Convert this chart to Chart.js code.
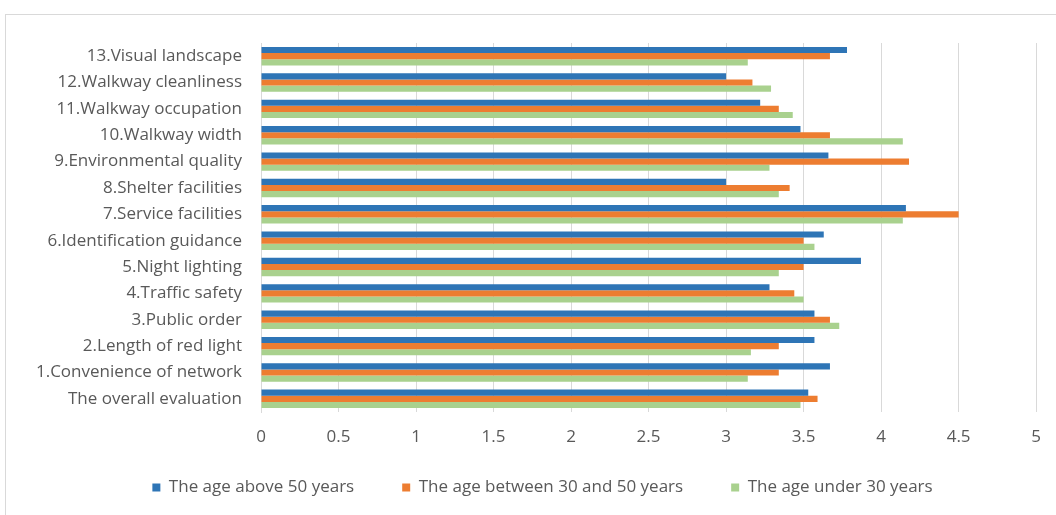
<!DOCTYPE html>
<html>
<head>
<meta charset="utf-8">
<script src="https://cdn.jsdelivr.net/npm/chart.js@4/dist/chart.umd.min.js"></script>
<style>
  body { margin: 0; background: #fff; }
  #frame { position: absolute; left: 5px; top: 14px; width: 1060px; height: 520px; border: 1px solid #d9d9d9; }
  #wrap { position: absolute; left: 0; top: 0; width: 1056px; height: 515px; }
</style>
</head>
<body>
<div id="frame"></div>
<div id="wrap"><canvas id="barChart"></canvas></div>
<script>
// categories, top to bottom
const categories = [
  '13.Visual landscape', '12.Walkway cleanliness', '11.Walkway occupation', '10.Walkway width',
  '9.Environmental quality', '8.Shelter facilities', '7.Service facilities', '6.Identification guidance',
  '5.Night lighting', '4.Traffic safety', '3.Public order', '2.Length of red light',
  '1.Convenience of network', 'The overall evaluation'
];
const seriesNames = ['The age above 50 years', 'The age between 30 and 50 years', 'The age under 30 years'];
const above50 = [3.78, 3.00, 3.22, 3.48, 3.66, 3.00, 4.16, 3.63, 3.87, 3.28, 3.57, 3.57, 3.67, 3.53];
const between30and50 = [3.67, 3.17, 3.34, 3.67, 4.18, 3.41, 4.50, 3.50, 3.50, 3.44, 3.67, 3.34, 3.34, 3.59];
const under30 = [3.14, 3.29, 3.43, 4.14, 3.28, 3.34, 4.14, 3.57, 3.34, 3.50, 3.73, 3.16, 3.14, 3.48];
const xTicks = [0, 0.5, 1, 1.5, 2, 2.5, 3, 3.5, 4, 4.5, 5];

const colors = ['#2e75b6', '#ed7d31', '#a9d18e'];
const font = { family: "'Open Sans', sans-serif", size: 17 };

// legend: short box in the layout, then moved so the wide item gap (labels.padding) fits
const legendPlace = {
  id: 'legendPlace',
  afterInit: function (chart) {
    const lg = chart.legend;
    const fit = lg.fit;
    lg.fit = function () {
      fit.call(this);
      this.height = 63;
    };
  },
  afterLayout: function (chart) {
    const lg = chart.legend;
    lg.top = 431;
    lg.height = lg.bottom - lg.top;
    lg.left += 18;
    lg.right += 18;
  }
};

const ctx = document.getElementById('barChart').getContext('2d');
new Chart(ctx, {
  type: 'bar',
  data: {
    labels: categories,
    datasets: [above50, between30and50, under30].map(function (d, i) {
      return {
        label: seriesNames[i],
        data: d,
        backgroundColor: colors[i],
        borderWidth: 0,
        barPercentage: 1.0,
        categoryPercentage: 0.7
      };
    })
  },
  options: {
    indexAxis: 'y',
    responsive: true,
    maintainAspectRatio: false,
    animation: false,
    layout: { padding: { left: 5, right: 12, top: 43, bottom: 0 } },
    scales: {
      x: {
        min: 0,
        max: 5,
        afterBuildTicks: function (scale) {
          scale.ticks = xTicks.map(function (v) { return { value: v }; });
        },
        afterFit: function (scale) { scale.height = 40; },
        grid: { color: '#d9d9d9', drawTicks: false },
        border: { display: false },
        ticks: {
          color: '#595959', font: font, padding: 15, maxRotation: 0,
          callback: function (v) { return String(v); }
        }
      },
      y: {
        afterFit: function (scale) { scale.width = 256; },
        grid: { display: false, drawTicks: false },
        border: { display: true, color: '#d9d9d9' },
        ticks: { color: '#595959', font: font, padding: 19, autoSkip: false }
      }
    },
    plugins: {
      legend: {
        position: 'bottom',
        labels: {
          color: '#595959',
          font: font,
          boxWidth: 8,
          boxHeight: 8,
          padding: 48
        }
      },
      tooltip: { enabled: false }
    }
  },
  plugins: [legendPlace]
});
</script>
</body>
</html>
